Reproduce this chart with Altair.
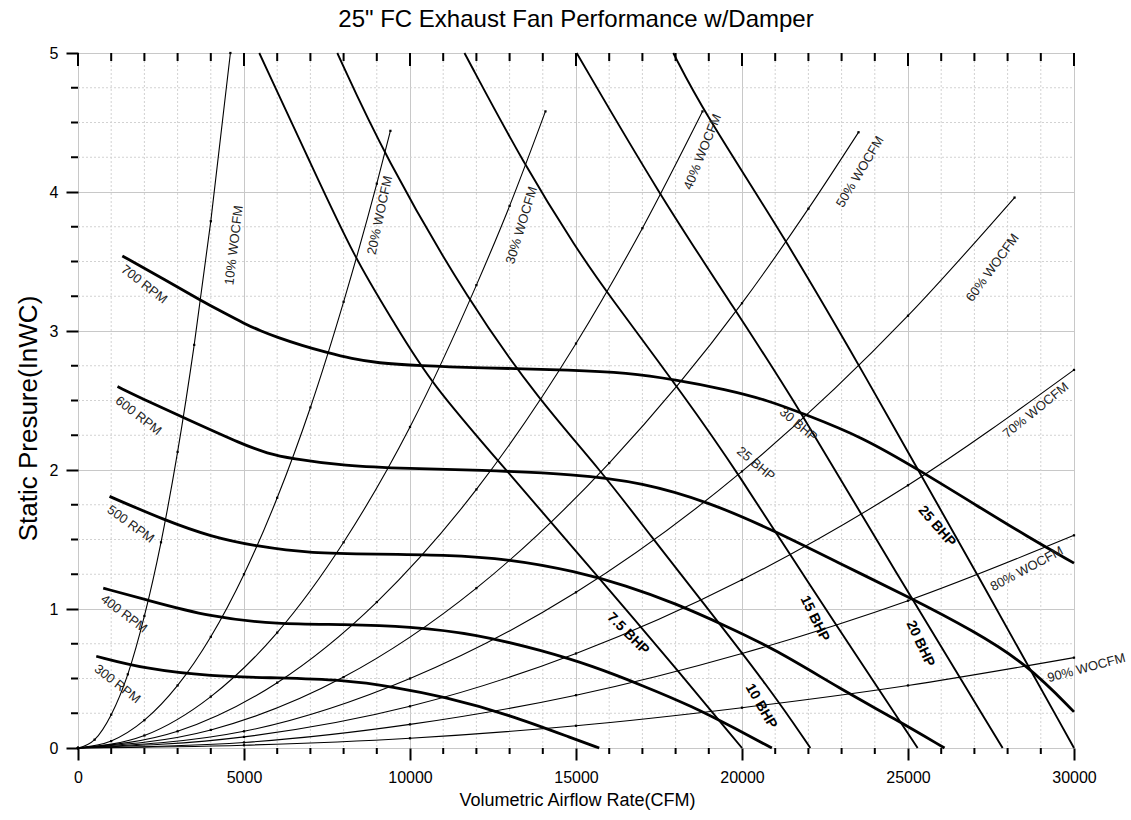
import altair as alt
import pandas as pd

W, H = 996, 695
FONT = "Liberation Sans"

# ---------------- fan speed curves (RPM) ----------------
rpm300_x = [550, 2000, 4000, 6000, 8000, 9500, 11000, 13000, 15000, 15700]
rpm300_y = [0.66, 0.57, 0.515, 0.505, 0.49, 0.44, 0.37, 0.24, 0.06, 0.0]
rpm400_x = [760, 2000, 4000, 6000, 8000, 10000, 12000, 14000, 15500, 17000, 18500, 19800, 20900]
rpm400_y = [1.15, 1.07, 0.94, 0.89, 0.89, 0.875, 0.82, 0.70, 0.59, 0.45, 0.30, 0.14, 0.0]
rpm500_x = [950, 2600, 4000, 5400, 7000, 9000, 11000, 13000, 15000, 16500, 18000, 19500, 21000, 23000, 24600, 26100]
rpm500_y = [1.81, 1.64, 1.52, 1.45, 1.40, 1.395, 1.39, 1.36, 1.27, 1.17, 1.04, 0.88, 0.71, 0.42, 0.21, 0.0]
rpm600_x = [1190, 2140, 3200, 5000, 5700, 6400, 8000, 10000, 12000, 15000, 17000, 19000, 21000, 23000, 25000, 27000, 28600, 30000]
rpm600_y = [2.60, 2.49, 2.375, 2.18, 2.12, 2.083, 2.03, 2.01, 2.00, 1.97, 1.91, 1.77, 1.56, 1.32, 1.09, 0.84, 0.60, 0.26]
rpm700_x = [1335, 2500, 3700, 4400, 5000, 5500, 6000, 6750, 7500, 8250, 9000, 10300, 12000, 15000,
            16500, 18000, 19500, 20800, 21900, 23600, 25400, 27100, 28600, 30000]
rpm700_y = [3.54, 3.385, 3.22, 3.13, 3.055, 3.0, 2.955, 2.895, 2.845, 2.80, 2.77, 2.75, 2.735, 2.72,
            2.70, 2.65, 2.58, 2.50, 2.40, 2.24, 1.99, 1.74, 1.52, 1.33]

# ---------------- brake horsepower curves ----------------
bhp75_x = [5460, 7000, 8360, 9500, 10600, 12900, 15700, 17500, 20000]
bhp75_y = [5.0, 4.21, 3.51, 3.07, 2.63, 2.0, 1.22, 0.72, 0.0]
bhp10_x = [7810, 9230, 11790, 13900, 15740, 17300, 18750, 20860, 22060]
bhp10_y = [5.0, 4.26, 3.20, 2.50, 2.0, 1.51, 1.07, 0.42, 0.0]
bhp15_x = [11640, 13450, 15050, 15890, 18360, 19870, 21820, 25290]
bhp15_y = [5.0, 4.19, 3.58, 3.29, 2.50, 1.98, 1.25, 0.0]
bhp20_x = [15020, 17510, 19800, 21580, 24660, 27850]
bhp20_y = [5.0, 3.98, 3.15, 2.50, 1.25, 0.0]
bhp25_x = [17930, 18810, 21320, 23480, 24170, 27100, 30000]
bhp25_y = [5.0, 4.59, 3.66, 2.77, 2.48, 1.245, 0.0]

# ---------------- system curves (% wide-open CFM) ----------------
w10_x = [0, 500, 1000, 1500, 2000, 2500, 3000, 3500, 4000, 4590]
w10_y = [0, 0.06, 0.24, 0.53, 0.95, 1.48, 2.13, 2.90, 3.79, 5.0]
w20_x = [0, 1000, 2000, 3000, 4000, 5000, 6000, 7000, 8000, 9000, 9410]
w20_y = [0, 0.05, 0.20, 0.45, 0.80, 1.25, 1.80, 2.45, 3.21, 4.06, 4.44]
w30_x = [0, 2000, 4000, 6000, 8000, 10000, 12000, 13000, 14080]
w30_y = [0, 0.09, 0.37, 0.83, 1.48, 2.31, 3.33, 3.90, 4.58]
w40_x = [0, 3000, 6000, 9000, 12000, 15000, 17000, 18810]
w40_y = [0, 0.12, 0.47, 1.05, 1.86, 2.91, 3.74, 4.58]
w50_x = [0, 4000, 8000, 12000, 16000, 20000, 22000, 23510]
w50_y = [0, 0.13, 0.51, 1.15, 2.05, 3.20, 3.88, 4.43]
w60_x = [0, 5000, 10000, 15000, 20000, 25000, 28210]
w60_y = [0, 0.12, 0.50, 1.12, 1.99, 3.11, 3.96]
w70_x = [0, 5000, 10000, 15000, 20000, 25000, 30000]
w70_y = [0, 0.08, 0.30, 0.68, 1.21, 1.89, 2.72]
w80_x = [0, 5000, 10000, 15000, 20000, 25000, 30000]
w80_y = [0, 0.04, 0.17, 0.38, 0.68, 1.06, 1.53]
w90_x = [0, 5000, 10000, 15000, 20000, 25000, 30000]
w90_y = [0, 0.02, 0.07, 0.16, 0.29, 0.45, 0.65]

# ---------------- labels ----------------
title_text = ['25" FC Exhaust Fan Performance w/Damper']

rpm_lbl_text = ["700 RPM", "600 RPM", "500 RPM", "400 RPM", "300 RPM"]
rpm_lbl_x = [1990, 1820, 1585, 1385, 1185]
rpm_lbl_y = [3.335, 2.39, 1.61, 0.965, 0.46]
rpm_lbl_angle = [38, 38, 36, 37, 38]

woc_lbl_text = ["10% WOCFM", "20% WOCFM", "30% WOCFM", "40% WOCFM", "50% WOCFM",
                "60% WOCFM", "70% WOCFM", "80% WOCFM", "90% WOCFM"]
woc_lbl_x = [4700, 9094, 13364, 18811, 23557, 27550, 28850, 28580, 30375]
woc_lbl_y = [3.617, 3.833, 3.761, 4.289, 4.145, 3.455, 2.43, 1.289, 0.576]
woc_lbl_angle = [277, 282, 287, 292, 301, 306, 321, 332, 345]

bhp_lbl_text = ["7.5 BHP", "10 BHP", "15 BHP", "20 BHP", "25 BHP"]
bhp_lbl_x = [16567, 20574, 22186, 25365, 25868]
bhp_lbl_y = [0.821, 0.30, 0.93, 0.75, 1.594]
bhp_lbl_angle = [45, 60, 64, 65, 49]

bhp_thin_text = ["30 BHP", "25 BHP"]
bhp_thin_x = [21698, 20417]
bhp_thin_y = [2.326, 2.044]
bhp_thin_angle = [40, 40]

x_major = [0, 5000, 10000, 15000, 20000, 25000, 30000]
y_major = [0, 1, 2, 3, 4, 5]
x_minor = [v for v in range(1000, 30000, 1000) if v % 5000 != 0]
y_minor = [q / 4 for q in range(1, 20) if q % 4 != 0]


def curves_df(items):
    rows = []
    for name, xs, ys in items:
        for i, (x, y) in enumerate(zip(xs, ys)):
            rows.append({"curve": name, "x": x, "y": y, "i": i})
    return pd.DataFrame(rows)


rpm_df = curves_df([("300", rpm300_x, rpm300_y), ("400", rpm400_x, rpm400_y),
                    ("500", rpm500_x, rpm500_y), ("600", rpm600_x, rpm600_y),
                    ("700", rpm700_x, rpm700_y)])
bhp_df = curves_df([("7.5", bhp75_x, bhp75_y), ("10", bhp10_x, bhp10_y),
                    ("15", bhp15_x, bhp15_y), ("20", bhp20_x, bhp20_y),
                    ("25", bhp25_x, bhp25_y)])
woc_df = curves_df([("10", w10_x, w10_y), ("20", w20_x, w20_y), ("30", w30_x, w30_y),
                    ("40", w40_x, w40_y), ("50", w50_x, w50_y), ("60", w60_x, w60_y),
                    ("70", w70_x, w70_y), ("80", w80_x, w80_y), ("90", w90_x, w90_y)])


def lbl_df(t, xs, ys, a):
    return pd.DataFrame({"t": t, "x": xs, "y": ys, "a": a})


xscale = alt.Scale(domain=[0, 30000], nice=False, zero=False)
yscale = alt.Scale(domain=[0, 5], nice=False, zero=False)

xaxis = alt.Axis(values=x_major, grid=True, gridColor="#c8c8c8", gridWidth=1,
                 domain=False, tickSize=12, tickWidth=2, tickColor="black",
                 labelFont=FONT, labelFontSize=16, labelColor="black", labelPadding=9,
                 labelFlush=False, labelOverlap=False, format="d",
                 title="Volumetric Airflow Rate(CFM)", titleFont=FONT, titleFontSize=18,
                 titleFontWeight="normal", titleColor="black",
                 titleX=W / 2 + 1, titleY=52, titleBaseline="middle", titleAlign="center")
yaxis = alt.Axis(values=y_major, grid=True, gridColor="#c8c8c8", gridWidth=1,
                 domain=False, tickSize=12, tickWidth=2, tickColor="black",
                 labelFont=FONT, labelFontSize=16, labelColor="black", labelPadding=8,
                 labelFlush=False, labelOverlap=False, format="d",
                 title="Static Presure(InWC)", titleFont=FONT, titleFontSize=26,
                 titleFontWeight="normal", titleColor="black", titleAngle=270,
                 titleX=-50, titleY=365, titleBaseline="middle", titleAlign="center")


def X(f="x"):
    return alt.X(f + ":Q", scale=xscale, axis=xaxis)


def Y(f="y"):
    return alt.Y(f + ":Q", scale=yscale, axis=yaxis)


xminor_df = pd.DataFrame({"x": x_minor})
yminor_df = pd.DataFrame({"y": y_minor})
xmajor_df = pd.DataFrame({"x": x_major})

grid_x = alt.Chart(xminor_df).mark_rule(color="#d2d2d2", strokeDash=[2, 2], strokeWidth=1).encode(
    x=X(), y=alt.value(0), y2=alt.value(H))
grid_y = alt.Chart(yminor_df).mark_rule(color="#d2d2d2", strokeDash=[2, 2], strokeWidth=1).encode(
    y=Y(), x=alt.value(0), x2=alt.value(W))

tick_b = alt.Chart(xminor_df).mark_rule(color="black", strokeWidth=2).encode(
    x=X(), y=alt.value(H), y2=alt.value(H + 6))
tick_l = alt.Chart(yminor_df).mark_rule(color="black", strokeWidth=2).encode(
    y=Y(), x=alt.value(-7), x2=alt.value(0))
tick_t_minor = alt.Chart(xminor_df).mark_rule(color="black", strokeWidth=2).encode(
    x=X(), y=alt.value(0), y2=alt.value(8))
tick_t_major = alt.Chart(xmajor_df).mark_rule(color="black", strokeWidth=2).encode(
    x=X(), y=alt.value(0), y2=alt.value(13))

woc_lines = alt.Chart(woc_df).mark_line(color="black", strokeWidth=1.1, interpolate="monotone").encode(
    x=X(), y=Y(), detail="curve:N", order="i:Q")
woc_dots = alt.Chart(woc_df).mark_square(color="black", size=5, opacity=1).encode(x=X(), y=Y())
bhp_lines = alt.Chart(bhp_df).mark_line(color="black", strokeWidth=1.9, interpolate="basis").encode(
    x=X(), y=Y(), detail="curve:N", order="i:Q")
rpm_lines = alt.Chart(rpm_df).mark_line(color="black", strokeWidth=2.8, interpolate="basis").encode(
    x=X(), y=Y(), detail="curve:N", order="i:Q")


def text_layer(df, size, weight, color):
    return alt.Chart(df).mark_text(font=FONT, fontSize=size, fontWeight=weight, color=color,
                                   align="center", baseline="middle").encode(
        x=X(), y=Y(), text="t:N", angle=alt.Angle("a:Q", scale=None))


rpm_text = text_layer(lbl_df(rpm_lbl_text, rpm_lbl_x, rpm_lbl_y, rpm_lbl_angle), 13, "normal", "#222222")
woc_text = text_layer(lbl_df(woc_lbl_text, woc_lbl_x, woc_lbl_y, woc_lbl_angle), 13, "normal", "#222222")
bhp_text = text_layer(lbl_df(bhp_lbl_text, bhp_lbl_x, bhp_lbl_y, bhp_lbl_angle), 14, "bold", "black")
bhp_thin = text_layer(lbl_df(bhp_thin_text, bhp_thin_x, bhp_thin_y, bhp_thin_angle), 13, "normal", "#222222")

title_layer = alt.Chart(pd.DataFrame({"t": title_text})).mark_text(
    font=FONT, fontSize=24, color="black", align="center", baseline="alphabetic").encode(
    text="t:N", x=alt.value(W / 2), y=alt.value(-26))

chart = alt.layer(
    grid_x, grid_y, tick_b, tick_l, tick_t_minor, tick_t_major,
    woc_lines, woc_dots, bhp_lines, rpm_lines,
    rpm_text, woc_text, bhp_text, bhp_thin, title_layer,
).properties(
    width=W, height=H,
    autosize="none",
    padding={"left": 78, "top": 53, "right": 57, "bottom": 72},
).configure_view(stroke="black", strokeWidth=2).configure(background="white")

chart.save("out.html", embed_options={"renderer": "svg", "actions": False})
